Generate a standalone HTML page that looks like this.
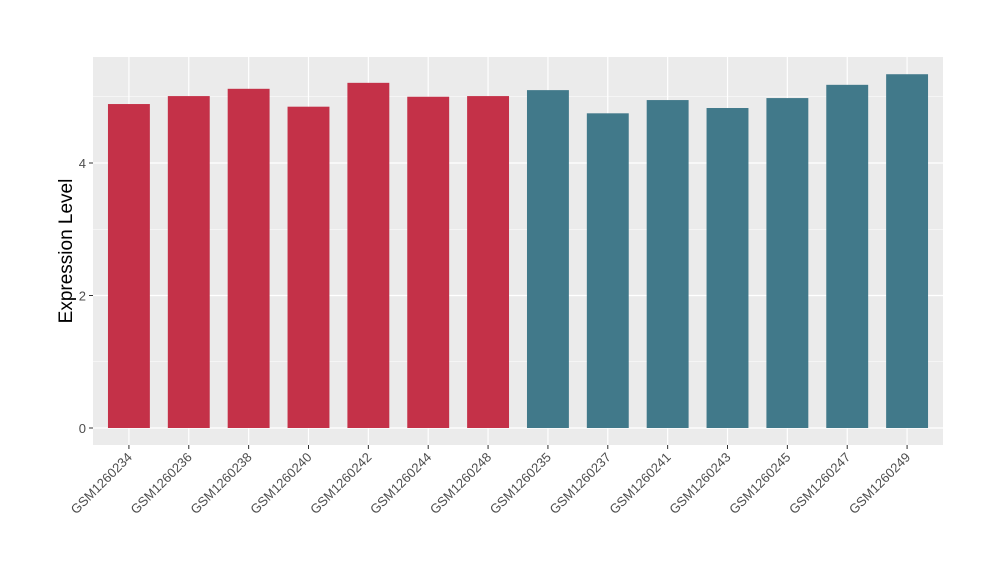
<!DOCTYPE html>
<html><head><meta charset="utf-8"><style>
body{margin:0;background:#fff;}
svg text{font-family:"Liberation Sans",Arial,sans-serif;}
</style></head><body>
<svg id="chart" width="1000" height="580">
<rect x="93" y="57" width="850" height="388" fill="#EBEBEB"/>
<g id="grid"></g><g id="bars"></g><g id="axes"></g>
<text x="72" y="251" font-size="19" text-anchor="middle" transform="rotate(-90 72 251)" fill="#000">Expression Level</text>
</svg>
<script>
const categories=["GSM1260234","GSM1260236","GSM1260238","GSM1260240","GSM1260242","GSM1260244","GSM1260248","GSM1260235","GSM1260237","GSM1260241","GSM1260243","GSM1260245","GSM1260247","GSM1260249"];
const values=[4.89,5.01,5.12,4.85,5.21,5.0,5.01,5.10,4.75,4.95,4.83,4.98,5.18,5.34];
const groups=["a","a","a","a","a","a","a","b","b","b","b","b","b","b"];
const yTicks=[0,2,4];
const yMinor=[1,3,5];
const colors={a:"#C43148",b:"#41798A"};
const NS="http://www.w3.org/2000/svg";
const px0=93,px1=943,y0px=428,unit=66.25;
const step=(px1-px0)/(categories.length-1+1.2);
function x(i){return px0+step*(0.6+i);}
function y(v){return y0px-v*unit;}
function mk(tag,attrs,parent){const e=document.createElementNS(NS,tag);for(const k in attrs)e.setAttribute(k,attrs[k]);document.getElementById(parent).appendChild(e);return e;}
yMinor.forEach(v=>{const l=mk("line",{x1:px0,x2:px1,y1:y(v),y2:y(v),stroke:"#fff","stroke-width":0.6},"grid");

});
yTicks.forEach(v=>{const l=mk("line",{x1:px0,x2:px1,y1:y(v),y2:y(v),stroke:"#fff","stroke-width":1.2},"grid");


const t=mk("line",{x1:px0-4,x2:px0,y1:y(v),y2:y(v),stroke:"#333","stroke-width":1},"axes");


const tx=mk("text",{x:px0-7,y:y(v)+5,"font-size":13,"text-anchor":"end",fill:"#4D4D4D"},"axes");tx.textContent=v;

});
categories.forEach((c,i)=>{const l=mk("line",{x1:x(i),x2:x(i),y1:57,y2:445,stroke:"#fff","stroke-width":1.2},"grid");


const w=step*0.7;
const b=mk("rect",{x:x(i)-w/2,y:y(values[i]),width:w,height:y(0)-y(values[i]),fill:colors[groups[i]]},"bars");


const t=mk("line",{x1:x(i),x2:x(i),y1:445,y2:449,stroke:"#333","stroke-width":1},"axes");


const tx=mk("text",{x:x(i)+4,y:458,"font-size":13,"text-anchor":"end",fill:"#4D4D4D",transform:`rotate(-45 ${x(i)+4} 458)`},"axes");tx.textContent=c;

});
</script>
</body></html>
